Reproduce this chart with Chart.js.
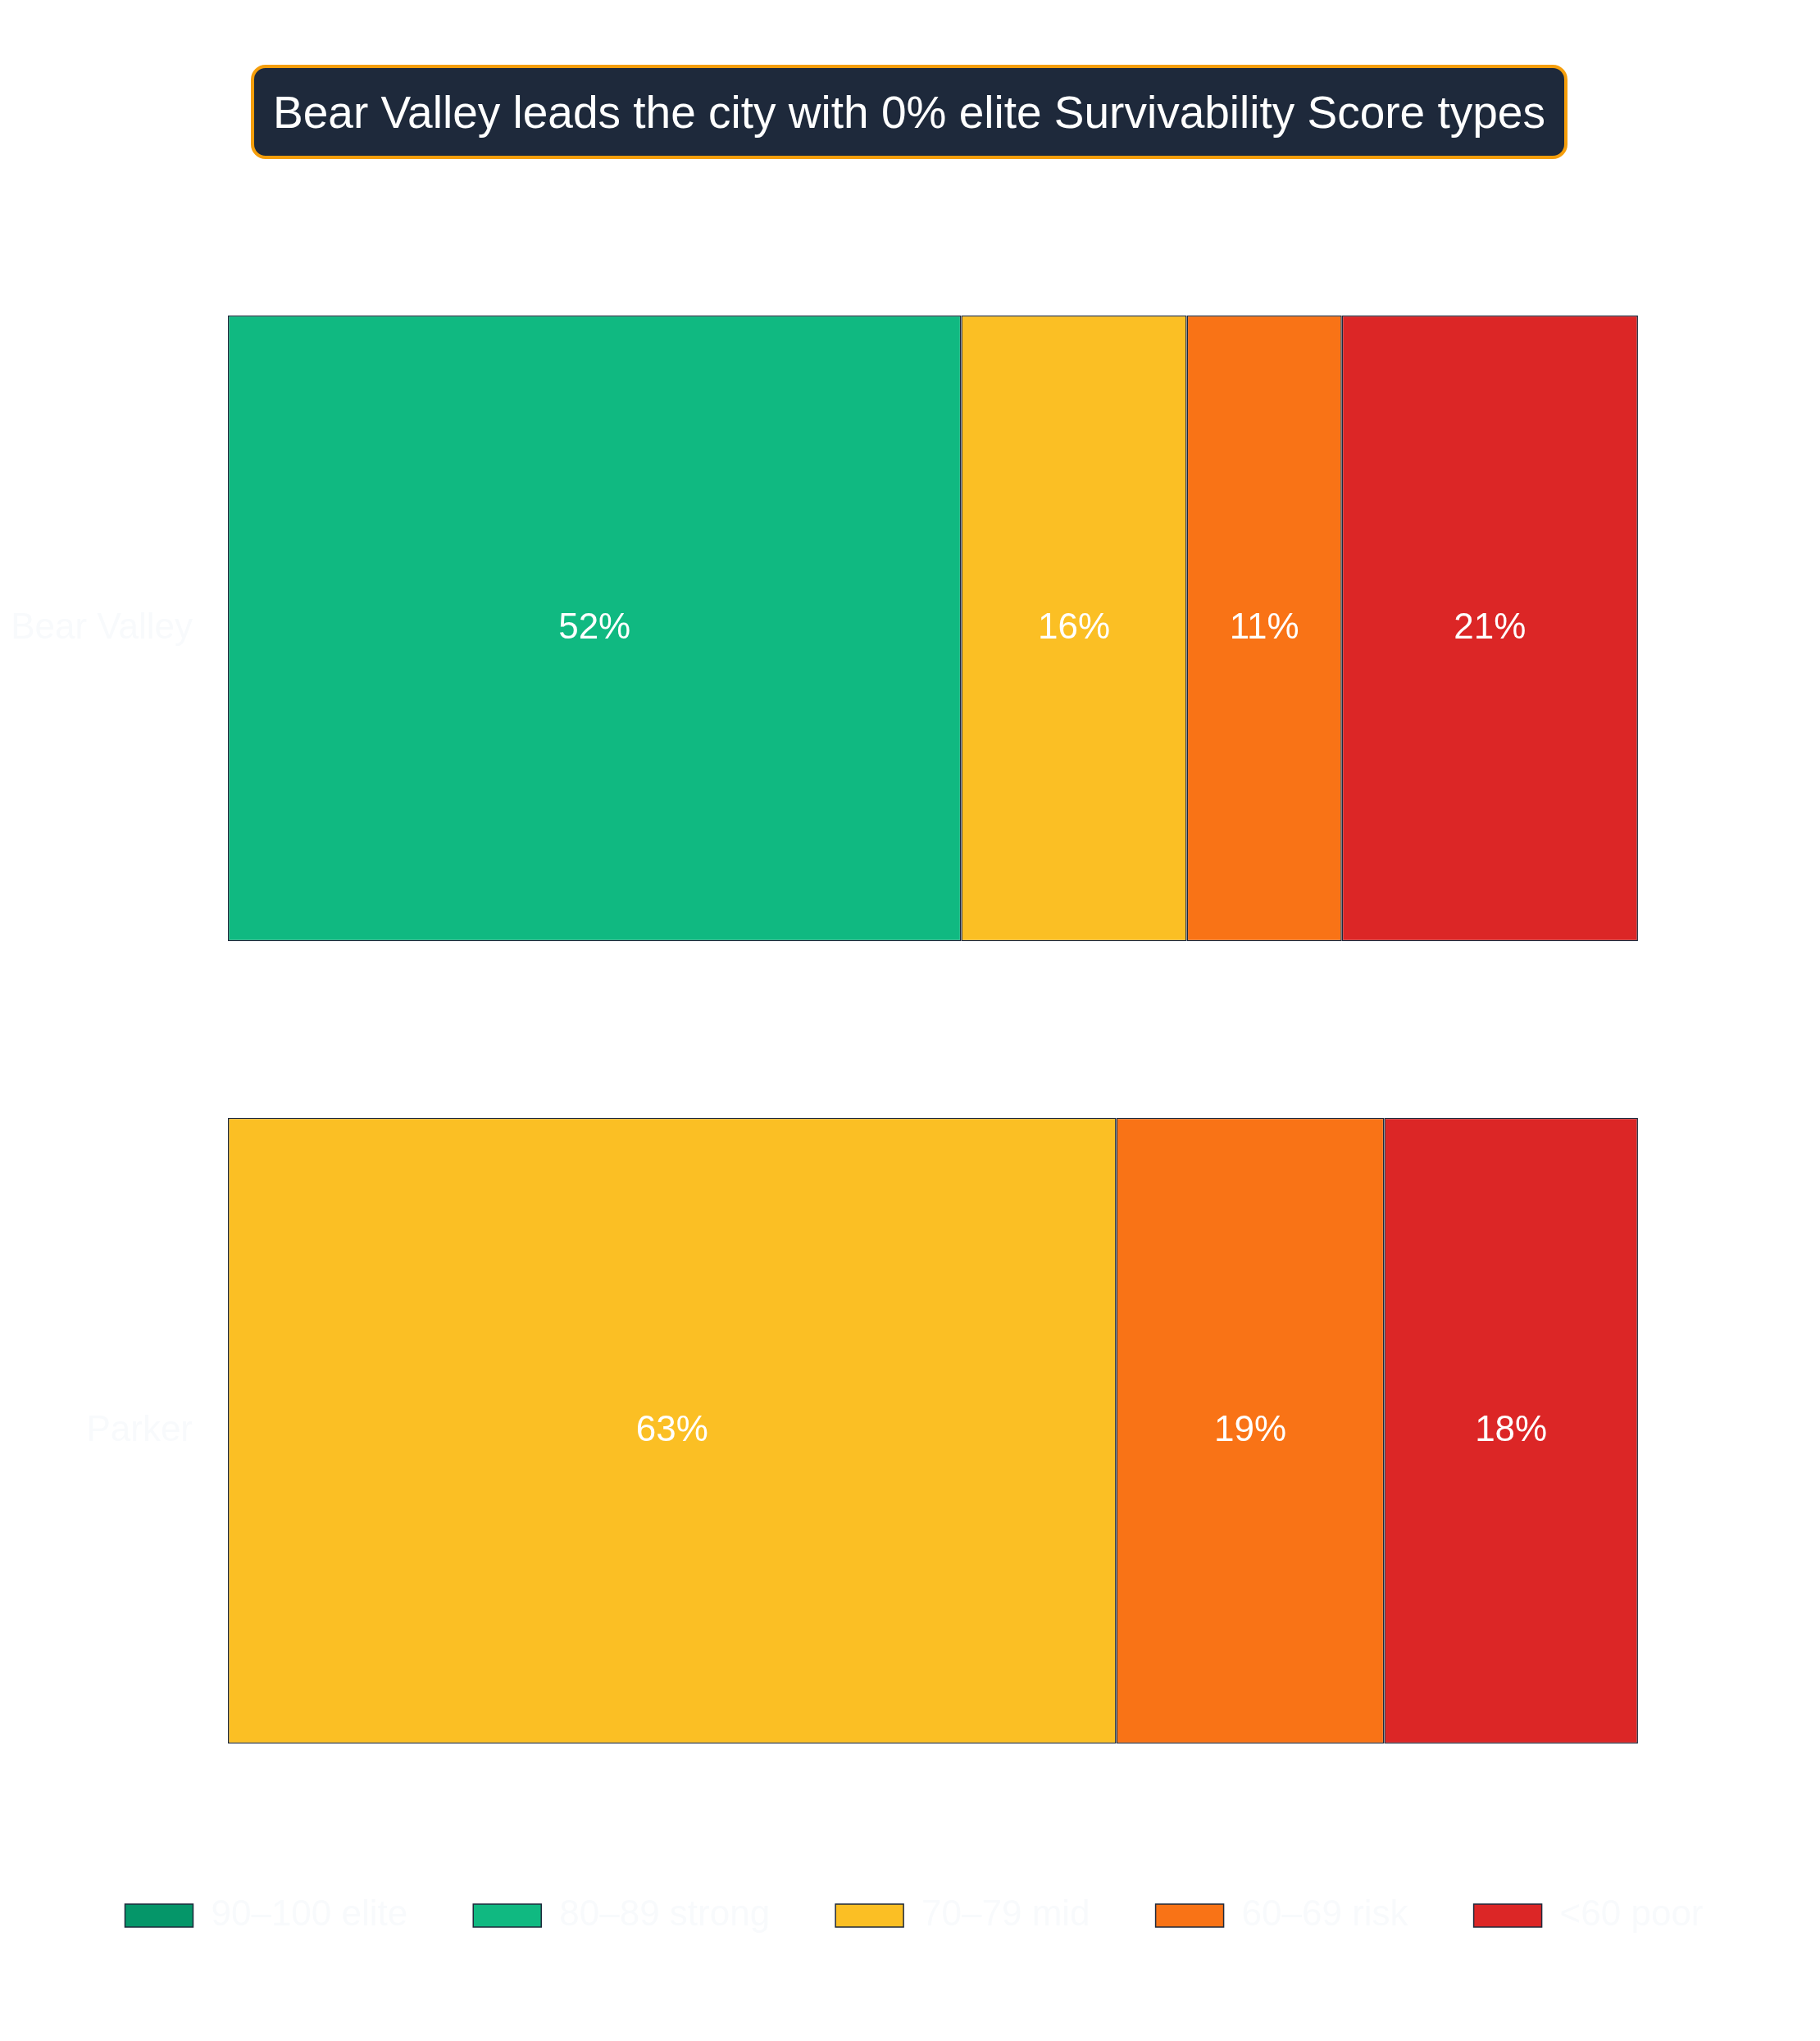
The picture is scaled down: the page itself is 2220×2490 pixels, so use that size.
<!DOCTYPE html>
<html>
<head>
<meta charset="utf-8">
<script src="https://cdn.jsdelivr.net/npm/chart.js@4.4.1/dist/chart.umd.min.js"></script>
<style>
  html, body { margin: 0; padding: 0; background: #ffffff; }
  #wrap { position: relative; width: 2220px; height: 2490px; }
  #title {
    position: absolute; left: 306px; top: 79px; width: 1598px; height: 107px;
    box-sizing: content-box;
    background: #1e293b; border: 4px solid #f59e0b; border-radius: 18px;
    color: #ffffff; font-family: "Liberation Sans", Arial, sans-serif; font-size: 55px;
    display: flex; align-items: center; justify-content: center;
  }
  canvas { position: absolute; left: 0; top: 0; }
</style>
</head>
<body>
<div id="wrap">
  <canvas id="chart" width="2220" height="2490"></canvas>
  <div id="title">Bear Valley leads the city with 0% elite Survivability Score types</div>
</div>
<script>
// neighbourhoods
const areas = ['Bear Valley', 'Parker'];
// score bands and their shares (%) per area
const bands = ['90–100 elite', '80–89 strong', '70–79 mid', '60–69 risk', '<60 poor'];
const elite  = [0, 0];
const strong = [52, 0];
const mid    = [16, 63];
const risk   = [11, 19];
const poor   = [21, 18];
const bandColors = ['#059669', '#10b981', '#fbbf24', '#f97316', '#dc2626'];

const series = [elite, strong, mid, risk, poor];
const FONT = '"Liberation Sans", Arial, sans-serif';

// percent labels in the middle of each segment
const segmentLabels = {
  id: 'segmentLabels',
  afterDatasetsDraw(chart) {
    const ctx = chart.ctx;
    ctx.save();
    ctx.font = '44px ' + FONT;
    ctx.fillStyle = '#ffffff';
    ctx.textAlign = 'center';
    ctx.textBaseline = 'middle';
    chart.data.datasets.forEach((ds, i) => {
      const meta = chart.getDatasetMeta(i);
      meta.data.forEach((bar, j) => {
        const v = ds.data[j];
        if (!v) return;
        ctx.fillText(v + '%', (bar.x + bar.base) / 2, bar.y);
      });
    });
    ctx.restore();
  }
};

new Chart(document.getElementById('chart'), {
  type: 'bar',
  data: {
    labels: areas,
    datasets: bands.map((b, i) => ({
      label: b,
      data: series[i],
      backgroundColor: bandColors[i],
      borderColor: '#1e293b',
      borderWidth: 1.5,
      borderSkipped: false,
      barPercentage: 0.78,
      categoryPercentage: 1
    }))
  },
  options: {
    indexAxis: 'y',
    responsive: false,
    animation: false,
    layout: { padding: { left: 10, right: 0, top: 277, bottom: 121 } },
    scales: {
      // leave empty room right of the 100% mark
      x: { stacked: true, min: 0, max: 112.91, display: false },
      y: {
        stacked: true,
        grid: { display: false, drawTicks: false },
        border: { display: false },
        ticks: { color: '#f8fafc', font: { size: 44, family: FONT }, padding: 43 },
        afterFit(scale) { scale.width = 268; }
      }
    },
    plugins: {
      title: { display: false },
      tooltip: { enabled: false },
      legend: {
        position: 'bottom',
        labels: {
          boxWidth: 83,
          boxHeight: 28,
          padding: 80,
          color: '#f8fafc',
          font: { size: 44, family: FONT }
        }
      }
    }
  },
  plugins: [segmentLabels]
});
</script>
</body>
</html>
